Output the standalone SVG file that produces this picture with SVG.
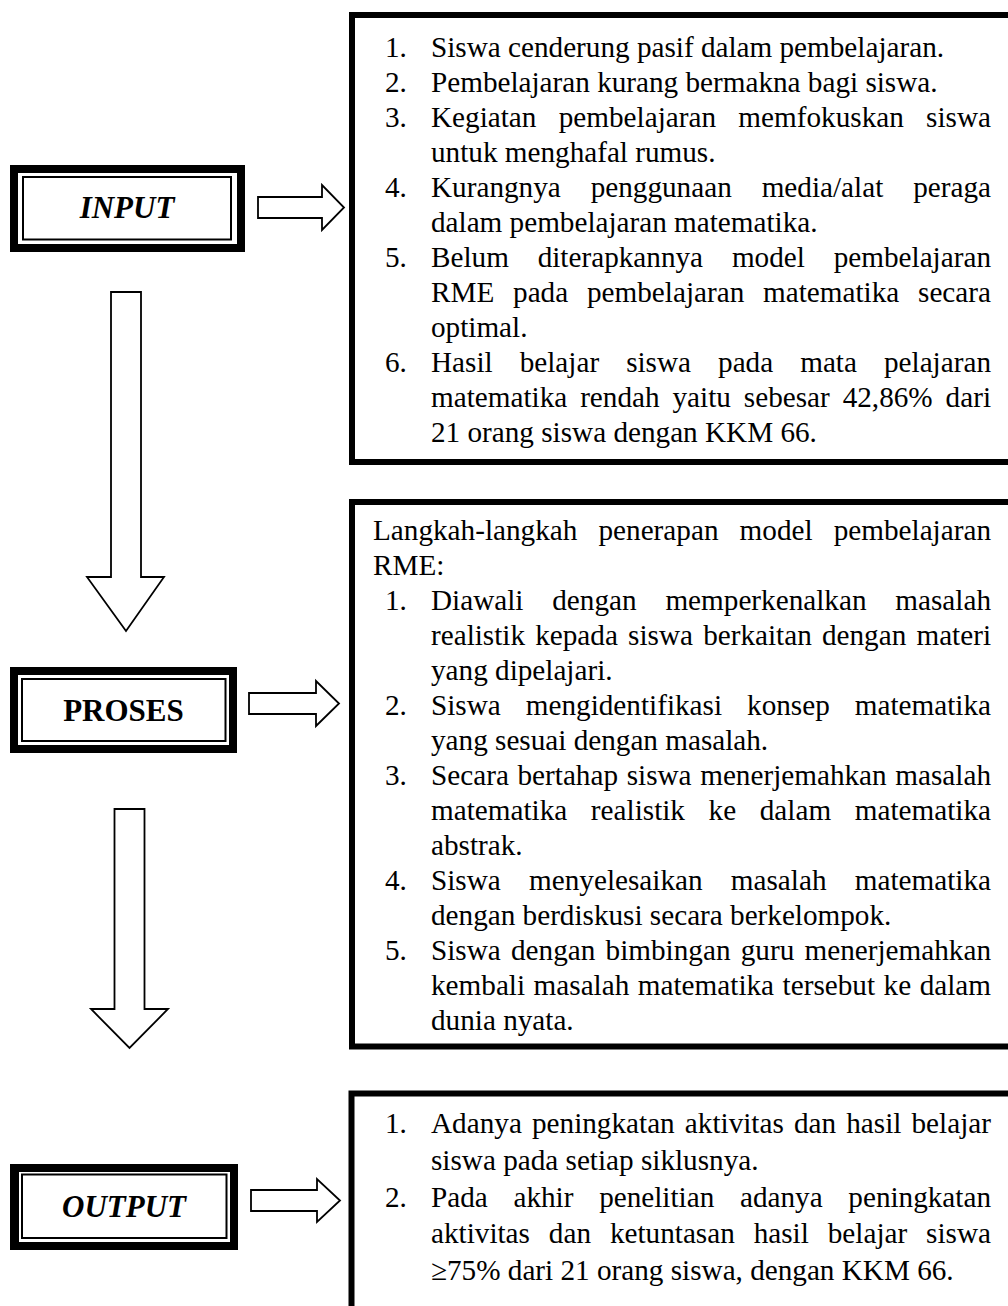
<svg xmlns="http://www.w3.org/2000/svg" width="1008" height="1306" viewBox="0 0 1008 1306">
<style>
.bg{fill:#fff}
.t{font-family:"Liberation Serif","Times New Roman",serif;font-size:29.2px;fill:#000}
.lbl{font-family:"Liberation Serif","Times New Roman",serif;font-weight:bold;font-size:31px;fill:#000;text-anchor:middle}
.it{font-style:italic}
.outer{fill:#000}
.inner{fill:#fff}
.thin{fill:none;stroke:#000;stroke-width:2}
.box{fill:none;stroke:#000;stroke-width:6}
.arrow{fill:#fff;stroke:#000;stroke-width:1.8;stroke-linejoin:miter}
</style>
<rect class="bg" x="0" y="0" width="1008" height="1306"/>

<g id="connectors">
  <path class="arrow" d="M258,197 H322 V185 L344,207.5 L322,230 V218 H258 Z"/>
  <path class="arrow" d="M249,693 H316 V681 L339,703.5 L316,726 V714 H249 Z"/>
  <path class="arrow" d="M251,1190 H317 V1179 L340,1200.5 L317,1222 V1211 H251 Z"/>
  <path class="arrow" d="M111,292 H141 V577 H164 L126,631 L87,577 H111 Z"/>
  <path class="arrow" d="M114.5,809 H144.5 V1009 H168 L129.5,1048 L91,1009 H114.5 Z"/>
</g>

<g id="node-input">
  <rect class="outer" x="10" y="165" width="235" height="87"/>
  <rect class="inner" x="18" y="173" width="219" height="71"/>
  <rect class="thin" x="23" y="177" width="208" height="62.5"/>
  <text class="lbl it" x="127" y="218">INPUT</text>
</g>

<g id="node-proses">
  <rect class="outer" x="10" y="667" width="227" height="86"/>
  <rect class="inner" x="18" y="675" width="211" height="70"/>
  <rect class="thin" x="22" y="679" width="203.5" height="62"/>
  <text class="lbl" x="123.5" y="720.5">PROSES</text>
</g>

<g id="node-output">
  <rect class="outer" x="10" y="1164" width="228" height="86"/>
  <rect class="inner" x="19" y="1172" width="211" height="70"/>
  <rect class="thin" x="22" y="1174.5" width="204.5" height="63.5"/>
  <text class="lbl it" x="124" y="1217">OUTPUT</text>
</g>

<g id="node-input-detail">
  <rect class="box" x="352" y="15" width="668" height="447"/>
  <text class="t" x="385" y="57">1.</text>
  <text class="t" x="431" y="57">Siswa cenderung pasif dalam pembelajaran.</text>
  <text class="t" x="385" y="92">2.</text>
  <text class="t" x="431" y="92">Pembelajaran kurang bermakna bagi siswa.</text>
  <text class="t" x="385" y="127">3.</text>
  <text class="t" x="431" y="127" style="word-spacing:15px" textLength="560" lengthAdjust="spacing">Kegiatan pembelajaran memfokuskan siswa</text>
  <text class="t" x="431" y="162">untuk menghafal rumus.</text>
  <text class="t" x="385" y="197">4.</text>
  <text class="t" x="431" y="197" style="word-spacing:22.6px" textLength="560" lengthAdjust="spacing">Kurangnya penggunaan media/alat peraga</text>
  <text class="t" x="431" y="232">dalam pembelajaran matematika.</text>
  <text class="t" x="385" y="267">5.</text>
  <text class="t" x="431" y="267" style="word-spacing:21.5px" textLength="560" lengthAdjust="spacing">Belum diterapkannya model pembelajaran</text>
  <text class="t" x="431" y="302" style="word-spacing:11.5px" textLength="560" lengthAdjust="spacing">RME pada pembelajaran matematika secara</text>
  <text class="t" x="431" y="337">optimal.</text>
  <text class="t" x="385" y="372">6.</text>
  <text class="t" x="431" y="372" style="word-spacing:19.7px" textLength="560" lengthAdjust="spacing">Hasil belajar siswa pada mata pelajaran</text>
  <text class="t" x="431" y="407" style="word-spacing:5.6px" textLength="560" lengthAdjust="spacing">matematika rendah yaitu sebesar 42,86% dari</text>
  <text class="t" x="431" y="442">21 orang siswa dengan KKM 66.</text>
</g>

<g id="node-proses-detail">
  <rect class="box" x="352" y="502" width="668" height="544.5"/>
  <text class="t" x="373" y="540" style="word-spacing:13.8px" textLength="618" lengthAdjust="spacing">Langkah-langkah penerapan model pembelajaran</text>
  <text class="t" x="373" y="575">RME:</text>
  <text class="t" x="385" y="610">1.</text>
  <text class="t" x="431" y="610" style="word-spacing:21.5px" textLength="560" lengthAdjust="spacing">Diawali dengan memperkenalkan masalah</text>
  <text class="t" x="431" y="645" style="word-spacing:2.9px" textLength="560" lengthAdjust="spacing">realistik kepada siswa berkaitan dengan materi</text>
  <text class="t" x="431" y="680">yang dipelajari.</text>
  <text class="t" x="385" y="715">2.</text>
  <text class="t" x="431" y="715" style="word-spacing:17.7px" textLength="560" lengthAdjust="spacing">Siswa mengidentifikasi konsep matematika</text>
  <text class="t" x="431" y="750">yang sesuai dengan masalah.</text>
  <text class="t" x="385" y="785">3.</text>
  <text class="t" x="431" y="785" style="word-spacing:1.3px" textLength="560" lengthAdjust="spacing">Secara bertahap siswa menerjemahkan masalah</text>
  <text class="t" x="431" y="820" style="word-spacing:16.3px" textLength="560" lengthAdjust="spacing">matematika realistik ke dalam matematika</text>
  <text class="t" x="431" y="855">abstrak.</text>
  <text class="t" x="385" y="890">4.</text>
  <text class="t" x="431" y="890" style="word-spacing:21px" textLength="560" lengthAdjust="spacing">Siswa menyelesaikan masalah matematika</text>
  <text class="t" x="431" y="925">dengan berdiskusi secara berkelompok.</text>
  <text class="t" x="385" y="960">5.</text>
  <text class="t" x="431" y="960" style="word-spacing:2.9px" textLength="560" lengthAdjust="spacing">Siswa dengan bimbingan guru menerjemahkan</text>
  <text class="t" x="431" y="995" style="word-spacing:1.2px" textLength="560" lengthAdjust="spacing">kembali masalah matematika tersebut ke dalam</text>
  <text class="t" x="431" y="1030">dunia nyata.</text>
</g>

<g id="node-output-detail">
  <rect class="box" x="351.5" y="1093.5" width="668" height="300"/>
  <text class="t" x="385" y="1133">1.</text>
  <text class="t" x="431" y="1133" style="word-spacing:2.8px" textLength="560" lengthAdjust="spacing">Adanya peningkatan aktivitas dan hasil belajar</text>
  <text class="t" x="431" y="1170">siswa pada setiap siklusnya.</text>
  <text class="t" x="385" y="1207">2.</text>
  <text class="t" x="431" y="1207" style="word-spacing:18.4px" textLength="560" lengthAdjust="spacing">Pada akhir penelitian adanya peningkatan</text>
  <text class="t" x="431" y="1243" style="word-spacing:11.6px" textLength="560" lengthAdjust="spacing">aktivitas dan ketuntasan hasil belajar siswa</text>
  <text class="t" x="431" y="1280">≥75% dari 21 orang siswa, dengan KKM 66.</text>
</g>
</svg>
